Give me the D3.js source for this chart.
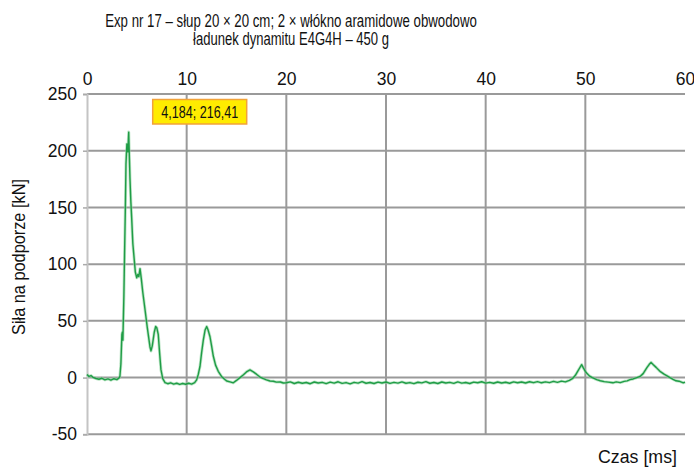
<!DOCTYPE html>
<html>
<head>
<meta charset="utf-8">
<script src="https://cdn.jsdelivr.net/npm/d3@7/dist/d3.min.js"></script>
<style>
  html, body { margin: 0; padding: 0; background: #fff; }
  svg { display: block; }
  text { font-family: "Liberation Sans", Arial, Helvetica, sans-serif; fill: #111; }
</style>
</head>
<body>
<svg id="chart" width="694" height="467"></svg>
<script>
// Titles and axis labels
const titleLines = [
  "Exp nr 17 \u2013 słup 20 \u00d7 20 cm; 2 \u00d7 włókno aramidowe obwodowo",
  "ładunek dynamitu E4G4H \u2013 450 g"
];
const xLabel = "Czas [ms]";
const yLabel = "Siła na podporze [kN]";

// Axis ticks
const xTicks = [0, 10, 20, 30, 40, 50, 60];
const yTicks = [-50, 0, 50, 100, 150, 200, 250];

// Peak marker
const peakTime = 4.184;
const peakForce = 216.41;
const peakLabel = "4,184; 216,41";

// Recorded support force: time [ms]
const timeMs = [
  0.0, 0.2, 0.4, 0.6, 0.9, 1.2, 1.5, 1.8, 2.1, 2.4, 2.7, 3.0, 3.2, 3.3, 3.4, 3.5, 3.55, 3.6, 3.7, 3.78,
  3.85, 3.91, 4.0, 4.1, peakTime, 4.25, 4.31, 4.4, 4.48, 4.6, 4.75, 4.85, 4.99, 5.1, 5.2, 5.32, 5.45, 5.6, 5.82, 6.05,
  6.32, 6.42, 6.55, 6.75, 6.89, 7.0, 7.15, 7.3, 7.42, 7.6, 7.83, 8.1, 8.4, 8.7, 9.0, 9.3, 9.6, 9.9, 10.2, 10.5,
  10.8, 11.0, 11.17, 11.34, 11.5, 11.67, 11.85, 12.01, 12.15, 12.34, 12.5, 12.67, 12.9, 13.17, 13.5, 13.8, 14.02, 14.35, 14.68, 15.0,
  15.35, 15.7, 16.0, 16.35, 16.69, 17.0, 17.36, 17.7, 18.0, 18.36, 18.7, 19.0, 19.4, 19.7, 20.0, 20.4, 20.8, 21.2, 21.6, 22.0,
  22.4, 22.8, 23.2, 23.6, 24.0, 24.4, 24.8, 25.2, 25.6, 26.0, 26.4, 26.8, 27.2, 27.6, 28.0, 28.4, 28.8, 29.2, 29.6, 30.0,
  30.4, 30.8, 31.2, 31.6, 32.0, 32.4, 32.8, 33.2, 33.6, 34.0, 34.4, 34.8, 35.2, 35.6, 36.0, 36.4, 36.8, 37.2, 37.6, 38.0,
  38.4, 38.8, 39.2, 39.6, 40.0, 40.4, 40.8, 41.2, 41.6, 42.0, 42.4, 42.8, 43.2, 43.6, 44.0, 44.4, 44.8, 45.2, 45.6, 46.0,
  46.4, 46.8, 47.2, 47.6, 48.0, 48.4, 48.7, 49.0, 49.2, 49.4, 49.63, 49.8, 50.0, 50.13, 50.4, 50.7, 51.14, 51.5, 51.9, 52.3,
  52.77, 53.1, 53.5, 53.9, 54.2, 54.48, 54.8, 55.1, 55.49, 55.8, 56.16, 56.4, 56.59, 56.8, 57.1, 57.49, 57.9, 58.2, 58.49, 58.8,
  59.1, 59.4, 59.83, 60.0
];

// Recorded support force: force [kN]
const forceKN = [
  2.8, 1.0, 1.8, 0.2, -0.8, -1.5, -0.6, -2.0, -1.2, -2.3, -1.0, -1.8, -0.5, 1.0, 12, 38, 40, 33, 72, 115,
  150, 188, 206, 199, peakForce, 195, 176, 155, 141, 118, 103, 93, 88, 91, 89, 96, 87, 75, 60, 44,
  27, 23.5, 28, 40, 45, 44, 38, 20, 7, -1, -4.5, -5.4, -4.6, -5.8, -5.0, -6.0, -5.2, -5.9, -5.0, -5.8,
  -4.5, -2.0, 3.0, 10, 22, 33, 42, 45, 42, 36, 28, 19, 11, 5.5, 1.0, -1.5, -3.0, -3.8, -4.6, -2.5,
  0.0, 2.5, 5.0, 6.8, 5.0, 3.0, 0.5, -1.0, -2.0, -3.0, -3.2, -4.0, -3.9, -4.8, -4.6, -3.8, -5.2, -4.1, -5.0, -4.3,
  -5.4, -3.9, -4.8, -4.2, -5.3, -4.0, -4.9, -3.7, -5.1, -4.4, -5.5, -4.2, -4.9, -3.6, -5.0, -4.3, -5.2, -4.0, -4.8, -3.9,
  -5.1, -4.2, -4.9, -3.8, -5.0, -4.4, -5.3, -4.1, -4.7, -3.6, -5.0, -4.3, -5.2, -3.9, -4.8, -4.2, -5.1, -3.8, -4.9, -4.3,
  -5.2, -4.0, -4.6, -3.7, -4.9, -4.2, -5.0, -3.9, -4.8, -4.1, -5.0, -3.8, -4.6, -3.9, -4.8, -3.7, -4.5, -3.6, -4.6, -3.8,
  -4.4, -3.3, -4.2, -3.1, -3.8, -2.4, -1.0, 2.0, 5.0, 8.0, 11.4, 8.5, 5.5, 4.0, 1.5, 0.0, -1.8, -2.8, -3.6, -4.0,
  -4.6, -3.8, -4.4, -3.3, -2.9, -1.8, -1.2, -0.2, 1.0, 3.5, 8.5, 11.5, 13.4, 11.5, 9.0, 5.5, 3.0, 1.5, 0.0, -1.5,
  -2.8, -3.2, -4.6, -4.0
];

const svg = d3.select("#chart");

const x = d3.scaleLinear().domain([0, 60]).range([87, 685]);
const y = d3.scaleLinear().domain([-50, 250]).range([434.3, 94]);

const gridColor = "#9a9a9a";

// Narrow a text horizontally to a given width, keeping its height
function condensed(parent, str, cx, cy, width, size, rotate) {
  const t = parent.append("text")
    .attr("text-anchor", "middle")
    .attr("font-size", size)
    .text(str);
  const natural = t.node().getComputedTextLength();
  const sx = width / natural;
  t.attr("transform", `translate(${cx},${cy})${rotate ? " rotate(-90)" : ""} scale(${sx},1)`);
  return t;
}

// Horizontal gridlines
svg.append("g")
  .selectAll("line")
  .data(yTicks)
  .join("line")
  .attr("x1", x(0)).attr("x2", x(60))
  .attr("y1", d => y(d)).attr("y2", d => y(d))
  .attr("stroke", gridColor)
  .attr("stroke-width", 2);

// Vertical gridlines (interior only)
svg.append("g")
  .selectAll("line")
  .data(xTicks.filter(d => d > 0 && d < 60))
  .join("line")
  .attr("x1", d => x(d)).attr("x2", d => x(d))
  .attr("y1", y(250)).attr("y2", y(-50))
  .attr("stroke", gridColor)
  .attr("stroke-width", 2);

// Left axis with short outward ticks
const yAxis = d3.axisLeft(y).tickValues(yTicks).tickSize(4).tickPadding(6).tickFormat(d => String(d));
const gy = svg.append("g").attr("transform", `translate(${x(0)},0)`).call(yAxis);
gy.select(".domain").attr("stroke", "#c4c4c4").attr("stroke-width", 2);
gy.selectAll(".tick line").attr("stroke", "#aaa").attr("stroke-width", 1.5);
gy.selectAll(".tick text")
  .attr("font-size", 17.5)
  .attr("font-family", "Liberation Sans, Arial, sans-serif")
  .attr("fill", "#111");

// Top axis labels
const xAxis = d3.axisTop(x).tickValues(xTicks).tickSize(0).tickPadding(9);
const gx = svg.append("g").attr("transform", `translate(0,${y(250)})`).call(xAxis);
gx.select(".domain").remove();
gx.selectAll(".tick text")
  .attr("font-size", 17.5)
  .attr("font-family", "Liberation Sans, Arial, sans-serif")
  .attr("fill", "#111");

// Signal trace: soft halo under a darker core line
const signal = timeMs.map((t, i) => [t, forceKN[i]]);
const lineGen = d3.line().x(d => x(d[0])).y(d => y(d[1]));
svg.append("path")
  .datum(signal)
  .attr("fill", "none")
  .attr("stroke", "#8fd3a0")
  .attr("stroke-width", 3)
  .attr("stroke-opacity", 0.6)
  .attr("stroke-linejoin", "round")
  .attr("d", lineGen);
svg.append("path")
  .datum(signal)
  .attr("fill", "none")
  .attr("stroke", "#1f9c46")
  .attr("stroke-width", 1.4)
  .attr("stroke-linejoin", "round")
  .attr("d", lineGen);

// Peak value label
const boxW = 94, boxH = 24.5;
const boxX = x(peakTime) + 24, boxY = y(250) + 5.5;
svg.append("rect")
  .attr("x", boxX).attr("y", boxY)
  .attr("width", boxW).attr("height", boxH)
  .attr("fill", "#ffec00")
  .attr("stroke", "#f2a23a")
  .attr("stroke-width", 1.5);
condensed(svg, peakLabel, boxX + boxW / 2, boxY + 18.5, 77, 16, false);

// Title
const titleWidths = [372, 196];
titleLines.forEach((line, i) => condensed(svg, line, 291, 27 + i * 17.5, titleWidths[i], 18.5, false));

// Axis titles
condensed(svg, xLabel, 637.5, 463, 79, 18.5, false);
condensed(svg, yLabel, 25, 257, 156, 18.5, true);
</script>
</body>
</html>
